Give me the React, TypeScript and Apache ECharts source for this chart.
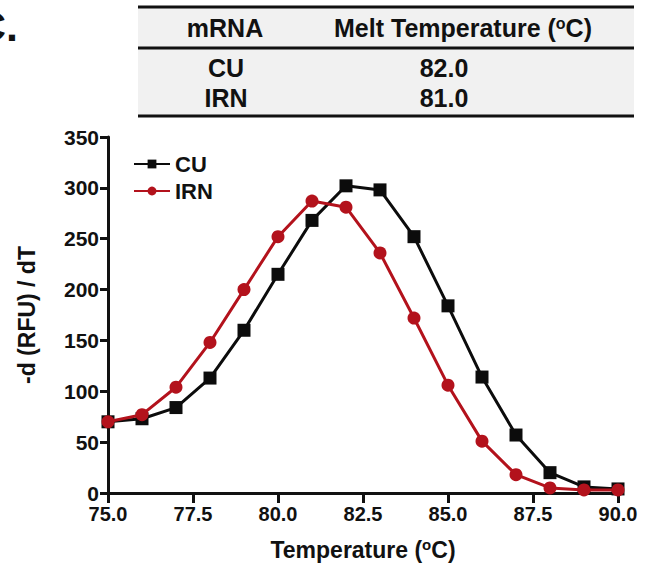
import React, { useEffect, useRef } from "react";
import * as echarts from "echarts";

const temps = [75, 76, 77, 78, 79, 80, 81, 82, 83, 84, 85, 86, 87, 88, 89, 90];
const cuValues = [70, 73, 84, 113, 160, 215, 268, 302, 298, 252, 184, 114, 57, 20, 6, 4];
const irnValues = [70, 77, 104, 148, 200, 252, 287, 281, 236, 172, 106, 51, 18, 5, 3, 3];
const tableHeader = ["mRNA", "Melt Temperature ({s|o}C)"];
const tableRows = [
  ["CU", "82.0"],
  ["IRN", "81.0"],
];

const FONT = "Liberation Sans";

export default function App() {
  const ref = useRef<HTMLDivElement>(null);
  useEffect(() => {
    if (!ref.current) return;
    const chart = echarts.init(ref.current, null, { renderer: "svg" });
    const boldText = { fontFamily: FONT, fontWeight: "bold", fontSize: 21, color: "#111" };
    const tText = (text: string, x: number, y: number, extra: any = {}) => ({
      type: "text",
      x,
      y,
      style: {
        text,
        fontFamily: FONT,
        fontWeight: "bold",
        fontSize: 25,
        fill: "#111",
        align: "center",
        verticalAlign: "middle",
        ...extra,
      },
    });
    const graphics: any[] = [
      { type: "text", x: -25, y: 4, style: { text: "C.", fontFamily: FONT, fontWeight: "bold", fontSize: 43, fill: "#111" } },
      { type: "rect", shape: { x: 138, y: 7, width: 496, height: 109 }, style: { fill: "#f1f1f1" } },
      { type: "line", shape: { x1: 138, y1: 7, x2: 634, y2: 7 }, style: { stroke: "#111", lineWidth: 3 } },
      { type: "line", shape: { x1: 138, y1: 48, x2: 634, y2: 48 }, style: { stroke: "#111", lineWidth: 3 } },
      { type: "line", shape: { x1: 138, y1: 116, x2: 634, y2: 116 }, style: { stroke: "#111", lineWidth: 3 } },
      tText(tableHeader[0], 225, 28),
      tText(tableHeader[1], 463, 28, {
        rich: { s: { fontFamily: FONT, fontWeight: "bold", fontSize: 16, verticalAlign: "top", padding: [0, 0, 10, 0] } },
      }),
    ];
    tableRows.forEach((r, i) => {
      const y = 68 + i * 30;
      graphics.push(tText(r[0], 226, y));
      graphics.push(tText(r[1], 444, y));
    });

    chart.setOption({
      animation: false,
      backgroundColor: "#fff",
      graphic: graphics,
      legend: {
        orient: "vertical",
        left: 128,
        top: 148,
        itemWidth: 36,
        itemHeight: 11,
        itemGap: 5,
        textStyle: { ...boldText, fontSize: 22 },
        data: ["CU", "IRN"],
      },
      grid: { left: 108, right: 32, top: 137, bottom: 69 },
      xAxis: {
        type: "value",
        min: 75,
        max: 90,
        interval: 2.5,
        name: "Temperature ({s|o}C)",
        nameLocation: "middle",
        nameGap: 44,
        nameTextStyle: {
          ...boldText,
          fontSize: 23,
          rich: { s: { fontFamily: FONT, fontWeight: "bold", fontSize: 15, verticalAlign: "top", padding: [0, 0, 10, 0], color: "#111" } },
        },
        axisLine: { lineStyle: { color: "#111", width: 3 } },
        axisTick: { length: 10, lineStyle: { width: 3, color: "#111" } },
        axisLabel: { ...boldText, fontSize: 20, margin: 11, formatter: (v: number) => v.toFixed(1) },
        splitLine: { show: false },
      },
      yAxis: {
        type: "value",
        min: 0,
        max: 350,
        interval: 50,
        name: "-d (RFU) / dT",
        nameLocation: "middle",
        nameGap: 70,
        nameTextStyle: { ...boldText, fontSize: 23 },
        axisLine: { show: true, lineStyle: { color: "#111", width: 3 } },
        axisTick: { show: true, length: 8, lineStyle: { width: 3, color: "#111" } },
        axisLabel: { ...boldText, fontSize: 21, margin: 9 },
        splitLine: { show: false },
      },
      series: [
        {
          name: "CU",
          type: "line",
          data: temps.map((t, i) => [t, cuValues[i]]),
          symbol: "rect",
          symbolSize: 13,
          itemStyle: { color: "#0c0c0c" },
          lineStyle: { color: "#0c0c0c", width: 3 },
          z: 3,
        },
        {
          name: "IRN",
          type: "line",
          data: temps.map((t, i) => [t, irnValues[i]]),
          symbol: "circle",
          symbolSize: 13,
          itemStyle: { color: "#b3121c" },
          lineStyle: { color: "#b3121c", width: 3 },
          z: 4,
        },
      ],
    });
    return () => chart.dispose();
  }, []);
  return <div ref={ref} style={{ width: 650, height: 566, position: "absolute", left: 0, top: 0 }} />;
}
